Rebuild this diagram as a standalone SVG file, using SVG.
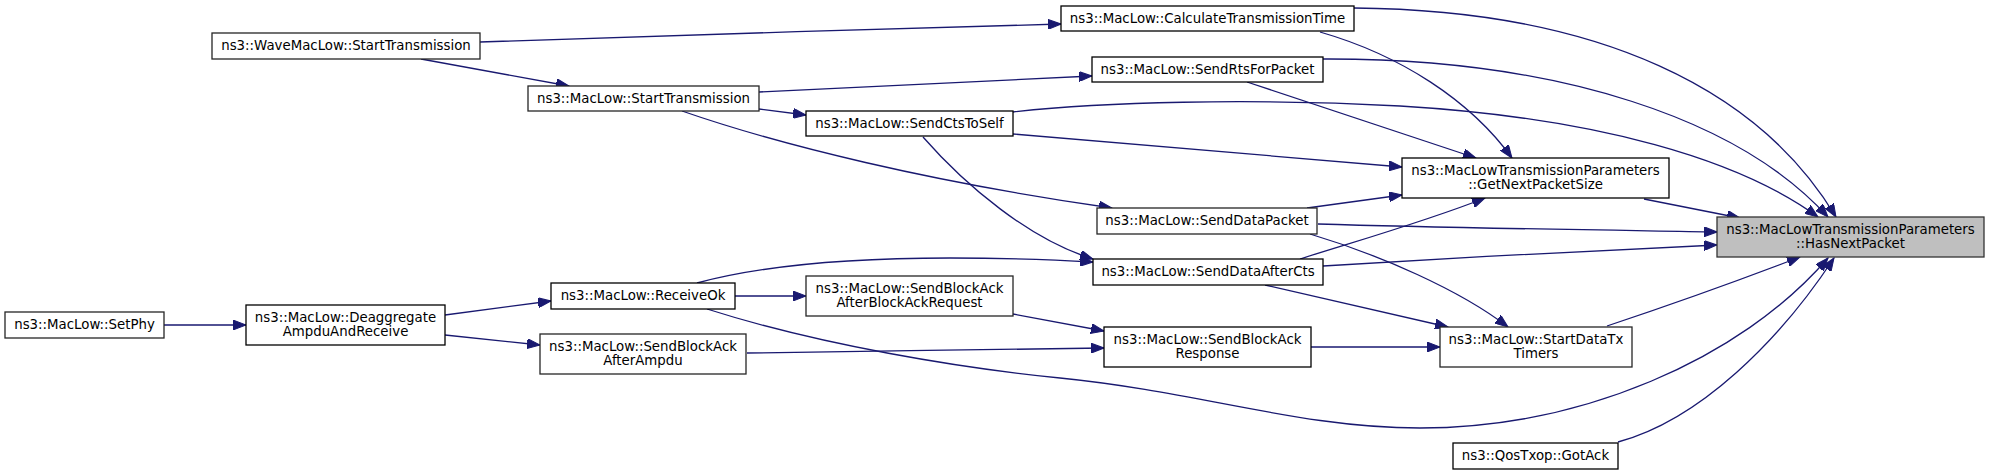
<svg xmlns="http://www.w3.org/2000/svg" width="1989" height="475" viewBox="0 0 1989 475">
<style>
.n rect{fill:#ffffff;stroke:#000000;stroke-width:1.3}
.n.g rect{stroke:#262626}
.n.main rect{fill:#bfbfbf;stroke:#333333}
.n text{font-family:"DejaVu Sans",sans-serif;font-size:13.33px;fill:#000000;text-anchor:middle}
#edges path{fill:none;stroke:#191970;stroke-width:1.3;marker-end:url(#ah)}
</style>
<defs>
<marker id="ah" markerUnits="userSpaceOnUse" markerWidth="14" markerHeight="10" refX="13" refY="5" orient="auto">
<path d="M0,0 L13,5 L0,10 z" fill="#191970" stroke="#191970" stroke-width="1"/>
</marker>
</defs>
<rect width="1989" height="475" fill="#ffffff"/>
<g id="edges">
<path d="M480,42 C650,36 880,29 1061,24"/>
<path d="M421,59 L569,86"/>
<path d="M759,92 C900,85 1000,80 1092,76"/>
<path d="M759,109 L806,115"/>
<path d="M682,111 C780,145 930,182 1112,208"/>
<path d="M1354,8 C1600,10 1760,90 1836,217"/>
<path d="M1320,32 C1400,55 1470,100 1512,158"/>
<path d="M1323,59 C1560,58 1740,120 1828,217"/>
<path d="M1247,82 L1476,158"/>
<path d="M1013,112 C1100,102 1250,98 1400,106 C1600,118 1740,160 1818,217"/>
<path d="M1013,134 L1402,167"/>
<path d="M923,137 C965,185 1030,240 1093,259"/>
<path d="M1644,199 L1740,218"/>
<path d="M1307,208 L1402,195"/>
<path d="M1318,224 C1450,228 1600,230 1717,232"/>
<path d="M1310,234 C1380,255 1460,290 1508,327"/>
<path d="M1300,259 C1360,240 1430,220 1485,198"/>
<path d="M1323,266 C1450,258 1600,250 1717,245"/>
<path d="M1265,285 L1448,327"/>
<path d="M697,283 C760,266 850,258 950,258 C1010,258 1060,260 1093,262"/>
<path d="M735,296 L806,296"/>
<path d="M707,309 C820,345 960,368 1060,378 C1200,392 1300,428 1420,428 C1580,428 1740,360 1828,258"/>
<path d="M445,315 L551,301"/>
<path d="M445,335 L540,345"/>
<path d="M164,325 L246,325"/>
<path d="M1013,314 L1104,331"/>
<path d="M747,353 C850,352 1000,349 1104,348"/>
<path d="M1311,347 L1440,347"/>
<path d="M1607,326 C1670,305 1740,280 1800,257"/>
<path d="M1618,442 C1700,420 1780,340 1834,258"/>
</g>
<g id="n_hasnext" class="n main"><rect x="1717" y="217" width="267" height="40"/><text x="1850.5" y="233.5">ns3::MacLowTransmissionParameters</text><text x="1850.5" y="247.5">::HasNextPacket</text></g>
<g id="n_getnext" class="n"><rect x="1402" y="158" width="267" height="40"/><text x="1535.5" y="174.5">ns3::MacLowTransmissionParameters</text><text x="1535.5" y="188.5">::GetNextPacketSize</text></g>
<g id="n_startdatatx" class="n g"><rect x="1440" y="327" width="192" height="40"/><text x="1536" y="343.5">ns3::MacLow::StartDataTx</text><text x="1536" y="357.5">Timers</text></g>
<g id="n_gotack" class="n"><rect x="1453" y="443" width="165" height="26"/><text x="1535.5" y="460">ns3::QosTxop::GotAck</text></g>
<g id="n_calctt" class="n"><rect x="1061" y="6" width="293" height="25"/><text x="1207.5" y="22.5">ns3::MacLow::CalculateTransmissionTime</text></g>
<g id="n_sendrts" class="n"><rect x="1092" y="57" width="231" height="25"/><text x="1207.5" y="73.5">ns3::MacLow::SendRtsForPacket</text></g>
<g id="n_senddatapacket" class="n g"><rect x="1097" y="208" width="220" height="26"/><text x="1207" y="225">ns3::MacLow::SendDataPacket</text></g>
<g id="n_senddataaftercts" class="n"><rect x="1093" y="259" width="230" height="26"/><text x="1208" y="276">ns3::MacLow::SendDataAfterCts</text></g>
<g id="n_response" class="n"><rect x="1104" y="327" width="207" height="40"/><text x="1207.5" y="343.5">ns3::MacLow::SendBlockAck</text><text x="1207.5" y="357.5">Response</text></g>
<g id="n_sendcts" class="n"><rect x="806" y="111" width="207" height="25"/><text x="909.5" y="127.5">ns3::MacLow::SendCtsToSelf</text></g>
<g id="n_afterbar" class="n g"><rect x="806" y="276" width="207" height="40"/><text x="909.5" y="292.5">ns3::MacLow::SendBlockAck</text><text x="909.5" y="306.5">AfterBlockAckRequest</text></g>
<g id="n_starttx" class="n g"><rect x="528" y="86" width="231" height="25"/><text x="643.5" y="102.5">ns3::MacLow::StartTransmission</text></g>
<g id="n_receiveok" class="n"><rect x="551" y="283" width="184" height="26"/><text x="643" y="300">ns3::MacLow::ReceiveOk</text></g>
<g id="n_afterampdu" class="n g"><rect x="540" y="334" width="206" height="40"/><text x="643" y="350.5">ns3::MacLow::SendBlockAck</text><text x="643" y="364.5">AfterAmpdu</text></g>
<g id="n_wavestart" class="n g"><rect x="212" y="33" width="268" height="26"/><text x="346" y="50">ns3::WaveMacLow::StartTransmission</text></g>
<g id="n_deagg" class="n"><rect x="246" y="305" width="199" height="40"/><text x="345.5" y="321.5">ns3::MacLow::Deaggregate</text><text x="345.5" y="335.5">AmpduAndReceive</text></g>
<g id="n_setphy" class="n g"><rect x="5" y="312" width="159" height="26"/><text x="84.5" y="329">ns3::MacLow::SetPhy</text></g>
</svg>
